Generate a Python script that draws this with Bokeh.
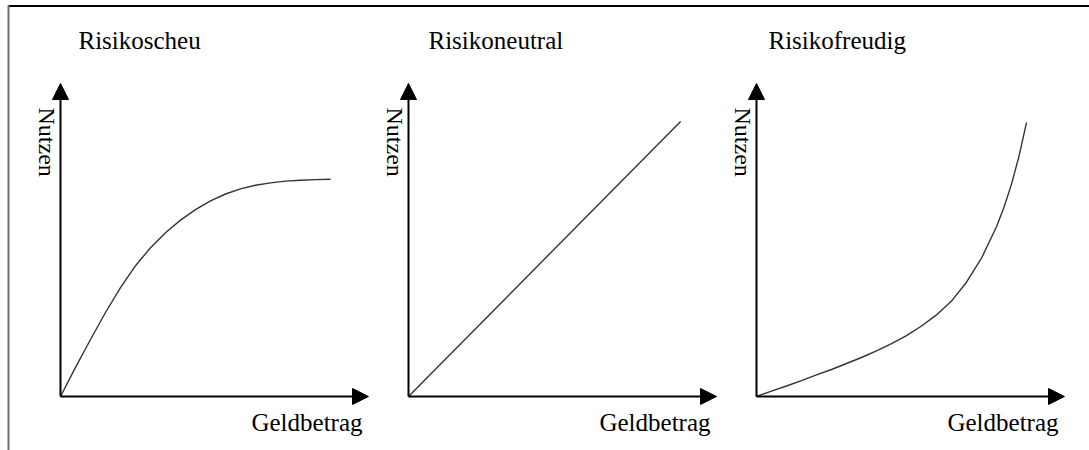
import numpy as np
from bokeh.plotting import figure
from bokeh.models import Range1d, Arrow, NormalHead
from bokeh.core.properties import value
from bokeh.embed import file_html
from bokeh.resources import INLINE

# ---- data (Geldbetrag -> Nutzen, arbitrary units) ----
titles = ["Risikoscheu", "Risikoneutral", "Risikofreudig"]
x_label = "Geldbetrag"
y_label = "Nutzen"

averse_x = [0, 5, 10, 15, 20, 25, 30, 35, 40, 45, 50, 55, 60, 65, 70, 75, 80, 85, 90]
averse_y = [0, 9.7, 19.0, 28.0, 36.3, 43.6, 49.6, 54.6, 58.8, 62.3, 65.2, 67.5, 69.2,
            70.4, 71.2, 71.8, 72.1, 72.3, 72.4]

neutral_x = [0, 90.7]
neutral_y = [0, 91.7]

seeking_x = [0, 5, 10, 15, 20, 25, 30, 35, 40, 45, 50, 55, 60, 65, 70, 75, 80,
             82.5, 85, 87.5, 90]
seeking_y = [0, 1.8, 3.5, 5.3, 7.2, 9.0, 11.0, 13.0, 15.2, 17.6, 20.3, 23.5, 27.2,
             31.8, 38.1, 46.1, 56.6, 63.1, 70.8, 80.1, 91.3]

curves = [(averse_x, averse_y), (neutral_x, neutral_y), (seeking_x, seeking_y)]

# ---- layout (page pixel coordinates) ----
W, H = 1089, 450
origins_x = [60, 408, 756]
origin_y = 396
S = 3.0                    # pixels per data unit
x_axis_len = 308
y_axis_len = 313
title_dx = [18, 20, 12]

FONT = value("Liberation Serif")

p = figure(width=W, height=H, output_backend="svg", toolbar_location=None,
           x_range=Range1d(0, W), y_range=Range1d(H, 0),
           min_border=0, outline_line_color=None)
p.axis.visible = False
p.grid.visible = False
p.background_fill_color = "white"
p.border_fill_color = "white"

# frame lines (top and left)
p.line([8, W], [5.5, 5.5], line_color="black", line_width=2)
p.line([8, 8], [5, H], line_color="#6e6e6e", line_width=2)

for i, (cx, cy) in enumerate(curves):
    ox = origins_x[i]
    # axes with arrow heads
    p.add_layout(Arrow(end=NormalHead(size=16, fill_color="black", line_color="black"),
                       x_start=ox, y_start=origin_y, x_end=ox, y_end=origin_y - y_axis_len,
                       line_color="black", line_width=2))
    p.add_layout(Arrow(end=NormalHead(size=16, fill_color="black", line_color="black"),
                       x_start=ox, y_start=origin_y, x_end=ox + x_axis_len, y_end=origin_y,
                       line_color="black", line_width=2))
    # curve
    sx = ox + S * np.array(cx, dtype=float)
    sy = origin_y - S * np.array(cy, dtype=float)
    p.line(sx, sy, line_color="#333333", line_width=1.4)
    # texts
    p.text(x=[ox + title_dx[i]], y=[40], text=[titles[i]], text_font=FONT,
           text_font_size="25px", text_color="black", text_align="left",
           text_baseline="alphabetic")
    p.text(x=[ox + 302], y=[422], text=[x_label], text_font=FONT,
           text_font_size="25px", text_color="black", text_align="right",
           text_baseline="alphabetic")
    p.text(x=[ox - 14], y=[107], text=[y_label], text_font=FONT,
           text_font_size="24px", text_color="black", text_align="left",
           text_baseline="middle", angle=-np.pi / 2)

open("out.html", "w").write(file_html(p, INLINE))
